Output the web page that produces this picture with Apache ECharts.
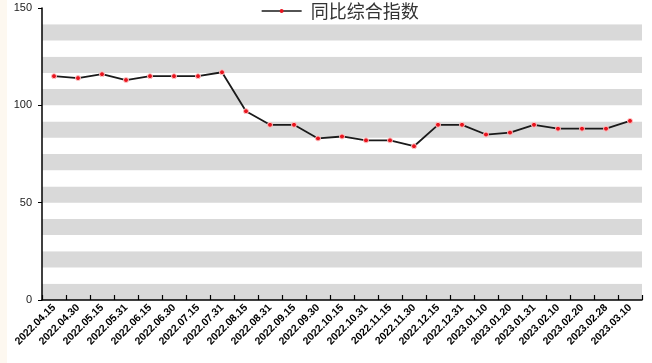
<!DOCTYPE html>
<html><head><meta charset="utf-8">
<script src="https://cdn.jsdelivr.net/npm/echarts@6/dist/echarts.min.js"></script>
<style>
html,body{margin:0;padding:0;}
body{background:linear-gradient(to right,#fdf8f0 0,#fdf8f0 7px,#ffffff 7px);}
#c{width:652px;height:363px;}
</style></head>
<body><div id="c"></div>
<script>
const categories = ['2022.04.15','2022.04.30','2022.05.15','2022.05.31','2022.06.15','2022.06.30','2022.07.15','2022.07.31','2022.08.15','2022.08.31','2022.09.15','2022.09.30','2022.10.15','2022.10.31','2022.11.15','2022.11.30','2022.12.15','2022.12.31','2023.01.10','2023.01.20','2023.01.31','2023.02.10','2023.02.20','2023.02.28','2023.03.10'];
const values = [115,114,116,113,115,115,115,117,97,90,90,83,84,82,82,79,90,90,85,86,90,88,88,88,92];
const yTicks = [0,50,100,150];
const seriesName = '同比综合指数';

const chart = echarts.init(document.getElementById('c'), null, {renderer:'canvas'});
chart.setOption({
  backgroundColor:'transparent',
  animation:false,
  legend:{
    top:0, left:256, padding:[2,5,5,5],
    itemWidth:40, itemHeight:5, itemGap:10,
    lineStyle:{width:1.3},
    textStyle:{fontSize:18, color:'#333', fontFamily:'Noto Sans CJK SC', padding:[0,0,0,4]},
    data:[{name:seriesName, itemStyle:{borderWidth:0}}]
  },
  grid:{left:42, right:10, top:8, bottom:63},
  xAxis:{
    type:'category', data:categories, boundaryGap:true,
    axisLine:{lineStyle:{color:'#000', width:1.5}},
    axisTick:{show:true, inside:true, length:5, alignWithLabel:false, lineStyle:{color:'#000', width:1.2}},
    axisLabel:{rotate:45, interval:0, fontSize:10.5, fontWeight:'bold', color:'#000', margin:6, fontFamily:'Liberation Sans'},
    splitLine:{show:false}
  },
  yAxis:[{
    type:'value', min:0, max:150, interval:50,
    axisLine:{show:true, lineStyle:{color:'#000', width:1.5}},
    axisTick:{show:true, length:4, lineStyle:{color:'#000'}},
    axisLabel:{fontSize:11, color:'#222', margin:10, fontFamily:'Liberation Sans',
      formatter:v=>yTicks.includes(v)?String(v):''},
    splitLine:{show:false}, splitArea:{show:false}
  },{
    type:'value', min:0, max:150, interval:150/18,
    axisLine:{show:false}, axisTick:{show:false}, axisLabel:{show:false},
    splitLine:{show:false},
    splitArea:{show:true, areaStyle:{color:['#d9d9d9','#ffffff']}}
  }],
  series:[{
    name:seriesName, type:'line', data:values, yAxisIndex:0,
    symbol:'circle', symbolSize:5, showAllSymbol:true,
    lineStyle:{color:'#1a1a1a', width:1.8},
    itemStyle:{color:'#e8141e', borderColor:'#ffc8c8', borderWidth:1}
  }]
});
</script></body></html>
